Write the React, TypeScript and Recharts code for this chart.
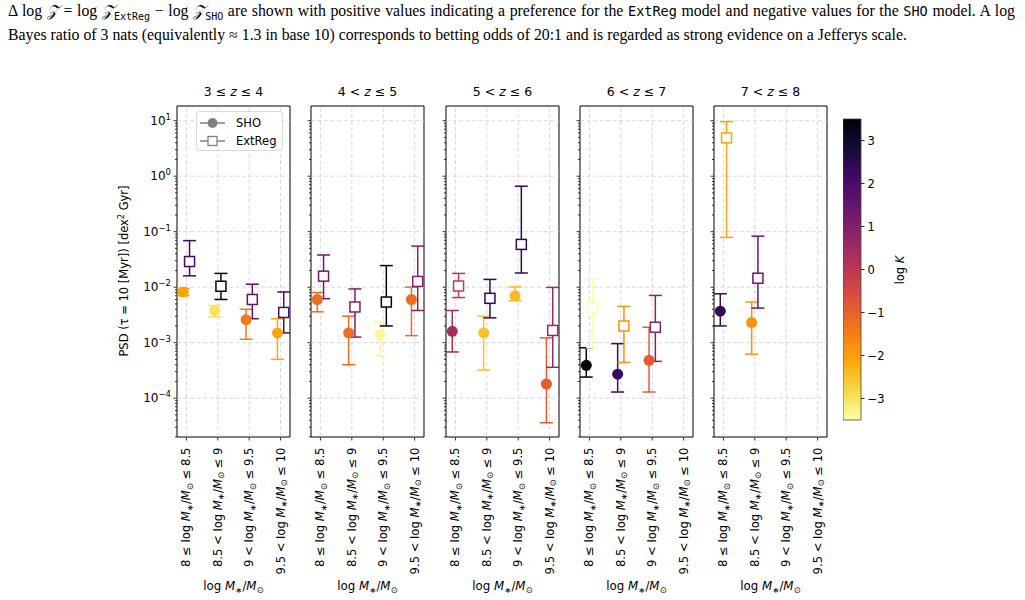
import React from 'react';
import { ComposedChart, BarChart, Bar, Scatter, ErrorBar, XAxis, YAxis, ReferenceLine, ReferenceArea } from 'recharts';

// redshift bins (one panel each) and stellar-mass bins (x categories)
const zLow = [3, 4, 5, 6, 7];
const zHigh = [4, 5, 6, 7, 8];
const massLow = ['8', '8.5', '9', '9.5'];
const massHigh = ['8.5', '9', '9.5', '10'];

// PSD at tau = 10 Myr, rows = redshift bins, columns = mass bins
const shoPsd = [
  [0.0082, 0.0038, 0.0026, 0.0015],
  [0.006, 0.0015, 0.0014, 0.006],
  [0.0016, 0.0015, 0.007, 0.00018],
  [0.00039, 0.00027, 0.00048, null],
  [0.0037, 0.0023, null, null],
];
const shoLow = [
  [0.007, 0.0029, 0.00115, 0.0005],
  [0.0036, 0.0004, 0.00058, 0.00134],
  [0.00068, 0.00032, 0.0057, 0.000036],
  [0.00024, 0.000129, 0.000129, null],
  [0.002, 0.00062, null, null],
];
const shoHigh = [
  [0.0095, 0.0047, 0.004, 0.0027],
  [0.008, 0.003, 0.0024, 0.01],
  [0.0038, 0.003, 0.0101, 0.00122],
  [0.00081, 0.00096, 0.0019, null],
  [0.0076, 0.0054, null, null],
];
const shoLogK = [
  [-2.1, -3.0, -1.4, -2.1],
  [-1.2, -1.2, -3.4, -1.2],
  [0.4, -2.5, -2.4, -0.9],
  [3.5, 2.2, -0.9, null],
  [2.3, -1.8, null, null],
];

const extPsd = [
  [0.029, 0.0104, 0.006, 0.0035],
  [0.0158, 0.0044, 0.0054, 0.0127],
  [0.0105, 0.0063, 0.059, 0.00166],
  [0.0043, 0.002, 0.0019, null],
  [4.9, 0.0145, null, null],
];
const extLow = [
  [0.016, 0.006, 0.0027, 0.0015],
  [0.0062, 0.00126, 0.002, 0.0038],
  [0.0065, 0.0028, 0.018, 0.00036],
  [0.00081, 0.00044, 0.00046, null],
  [0.079, 0.0042, null, null],
];
const extHigh = [
  [0.069, 0.0177, 0.0113, 0.0082],
  [0.038, 0.0093, 0.0245, 0.055],
  [0.0177, 0.0138, 0.66, 0.0099],
  [0.0139, 0.0045, 0.0071, null],
  [9.6, 0.083, null, null],
];
const extLogK = [
  [2.1, 3.3, 1.6, 2.0],
  [1.3, 1.0, 3.4, 0.9],
  [-0.1, 2.4, 2.4, 0.6],
  [-3.5, -1.8, 0.9, null],
  [-2.1, 1.4, null, null],
];

const kTicks = [-3, -2, -1, 0, 1, 2, 3];

const KMIN = -3.5;
const KMAX = 3.5;
const Y_MIN = Math.pow(10, -4.7);
const Y_MAX = Math.pow(10, 1.265);

const PLOT_TOP = 106;
const PLOT_W = 113;
const PLOT_H = 331;
const plotLeft = (i: number) => Math.round(177 + i * 134.25);

// inferno, sampled every 0.1
const INFERNO = [
  '#000004', '#160b39', '#420a68', '#6a176e', '#932667', '#bc3754',
  '#dd513a', '#f37819', '#fca50a', '#f6d746', '#fcffa4',
];

function hexRgb(h: string) {
  const n = parseInt(h.slice(1), 16);
  return [(n >> 16) & 255, (n >> 8) & 255, n & 255];
}

// reversed inferno: large log K is dark
function kColor(v: number) {
  const t = 1 - Math.min(1, Math.max(0, (v - KMIN) / (KMAX - KMIN)));
  const p = t * 10;
  const i = Math.min(9, Math.floor(p));
  const f = p - i;
  const a = hexRgb(INFERNO[i]);
  const b = hexRgb(INFERNO[i + 1]);
  const c = a.map((x, k) => Math.round(x + (b[k] - x) * f));
  return `rgb(${c[0]},${c[1]},${c[2]})`;
}

const yTicks: number[] = [];
for (let e = -5; e <= 1; e++) {
  for (let m = 1; m <= 9; m++) {
    const v = m * Math.pow(10, e);
    if (v >= Y_MIN && v <= Y_MAX) yTicks.push(v);
  }
}
const majorY = [-4, -3, -2, -1, 0, 1].map((e) => Math.pow(10, e));

const sup = (e: number) => (e < 0 ? `\u2212${-e}` : `${e}`);

function LogTick(props: any) {
  const { x, y, payload, showLabel } = props;
  const v = payload.value as number;
  const e = Math.round(Math.log10(v));
  const major = Math.abs(v / Math.pow(10, e) - 1) < 1e-6;
  return (
    <g>
      <line x1={x} x2={x - (major ? 3.5 : 2)} y1={y} y2={y} stroke="#000" strokeWidth={0.8} />
      {major && showLabel && (
        <text x={x - 6} y={y + 4} textAnchor="end" fontSize={12} fill="#000">
          10
          <tspan dy={-5} fontSize={8.5}>{sup(e)}</tspan>
        </text>
      )}
    </g>
  );
}

function MassTick(props: any) {
  const { x, y, payload } = props;
  const b = payload.value as number;
  const rel = b === 0 ? '\u2264' : '<';
  return (
    <g>
      <line x1={x} x2={x} y1={y} y2={y + 3.5} stroke="#000" strokeWidth={0.8} />
      <text
        transform={`translate(${x + 4},${y + 10.5}) rotate(-90)`}
        textAnchor="end"
        fontSize={11.6}
        fill="#000"
      >
        <tspan>{`${massLow[b]} ${rel} log `}</tspan>
        <tspan fontStyle="italic">M</tspan>
        <tspan dy={2.5} fontSize={8.5}>{'\u2217'}</tspan>
        <tspan dy={-2.5}>/</tspan>
        <tspan fontStyle="italic">M</tspan>
        <tspan dy={2.5} fontSize={8.5}>{'\u2299'}</tspan>
        <tspan dy={-2.5}>{` \u2264 ${massHigh[b]}`}</tspan>
      </text>
    </g>
  );
}

type Pt = { kind: 'sho' | 'ext'; x: number; y: number; err: number[]; color: string };

function panelPoints(i: number) {
  const pts: Pt[] = [];
  for (let b = 0; b < 4; b++) {
    const s = shoPsd[i][b];
    if (s != null) {
      pts.push({ kind: 'sho', x: b - 0.1, y: s, err: [s - (shoLow[i][b] as number), (shoHigh[i][b] as number) - s], color: kColor(shoLogK[i][b] as number) });
    }
    const r = extPsd[i][b];
    if (r != null) {
      pts.push({ kind: 'ext', x: b + 0.1, y: r, err: [r - (extLow[i][b] as number), (extHigh[i][b] as number) - r], color: kColor(extLogK[i][b] as number) });
    }
  }
  return pts;
}

function Panel({ i }: { i: number }) {
  const left = plotLeft(i);
  const pts = panelPoints(i);
  return (
    <>
      <div style={{ position: 'absolute', left: left - 50, top: PLOT_TOP - 10 }}>
        <ComposedChart width={50 + PLOT_W + 10} height={10 + PLOT_H + 150} margin={{ top: 10, right: 10, bottom: 0, left: 0 }}>
          <XAxis
            type="number"
            dataKey="x"
            domain={[-0.3, 3.3]}
            ticks={[0, 1, 2, 3]}
            allowDataOverflow
            height={150}
            interval={0}
            axisLine={false}
            tickLine={false}
            tickSize={0}
            tickMargin={0}
            tick={(p: any) => <MassTick {...p} />}
          />
          <YAxis
            type="number"
            dataKey="y"
            scale="log"
            domain={[Y_MIN, Y_MAX]}
            allowDataOverflow
            ticks={yTicks}
            width={50}
            interval={0}
            axisLine={false}
            tickLine={false}
            tickSize={0}
            tickMargin={0}
            tick={(p: any) => <LogTick {...p} showLabel={i === 0} />}
          />
          {majorY.map((v) => (
            <ReferenceLine key={`h${v}`} y={v} stroke="#cfcfcf" strokeWidth={0.8} strokeDasharray="4 2.5" />
          ))}
          {[0, 1, 2, 3].map((v) => (
            <ReferenceLine key={`v${v}`} x={v} stroke="#cfcfcf" strokeWidth={0.8} strokeDasharray="4 2.5" />
          ))}
          {pts.map((p, k) => (
            <Scatter
              key={k}
              data={[p]}
              isAnimationActive={false}
              shape={(sp: any) =>
                p.kind === 'sho' ? (
                  <circle cx={sp.cx} cy={sp.cy} r={5.5} fill={p.color} />
                ) : (
                  <rect x={sp.cx - 5} y={sp.cy - 5} width={10} height={10} fill="#fff" stroke={p.color} strokeWidth={1.5} />
                )
              }
            >
              <ErrorBar dataKey="err" direction="y" width={6.5} stroke={p.color} strokeWidth={1.5} isAnimationActive={false} />
            </Scatter>
          ))}
          <ReferenceArea x1={-0.3} x2={3.3} y1={Y_MIN} y2={Y_MAX} fill="none" stroke="#000" strokeWidth={1} />
        </ComposedChart>
      </div>
      <div style={{ position: 'absolute', left: left, width: PLOT_W, top: 84, textAlign: 'center', fontSize: 12.5 }}>
        {zLow[i]} {i === 0 ? '\u2264' : '<'} <i>z</i> {'\u2264'} {zHigh[i]}
      </div>
      <div style={{ position: 'absolute', left: left, width: PLOT_W, top: 579, textAlign: 'center', fontSize: 11.8 }}>
        log <i>M</i>
        <sub style={{ fontSize: 8.5 }}>{'\u2217'}</sub>/<i>M</i>
        <sub style={{ fontSize: 8.5 }}>{'\u2299'}</sub>
      </div>
    </>
  );
}

function LegendBox() {
  return (
    <svg style={{ position: 'absolute', left: 196, top: 111 }} width={90} height={42}>
      <rect x={0.5} y={0.5} width={86} height={39} rx={3} fill="#fff" fillOpacity={0.85} stroke="#d8d8d8" />
      <line x1={4} x2={29} y1={12} y2={12} stroke="#808080" strokeWidth={1.5} />
      <circle cx={16.5} cy={12} r={5} fill="#808080" />
      <text x={40} y={16} fontSize={11.5} fill="#000">SHO</text>
      <line x1={4} x2={29} y1={30} y2={30} stroke="#808080" strokeWidth={1.5} />
      <rect x={12} y={25.5} width={9} height={9} fill="#fff" stroke="#808080" strokeWidth={1.3} />
      <text x={40} y={34} fontSize={11.5} fill="#000">ExtReg</text>
    </svg>
  );
}

// the colour bar is a single range bar spanning the log K limits
const cbarData = [{ name: 'logK', range: [KMIN, KMAX] }];

function ColorBar() {
  return (
    <>
      <div style={{ position: 'absolute', left: 843, top: 109 }}>
        <BarChart
          width={18 + 40}
          height={10 + 301 + 10}
          data={cbarData}
          margin={{ top: 10, right: 0, bottom: 10, left: 0 }}
          barCategoryGap={0}
        >
          <defs>
            <linearGradient id="cbar" x1="0" y1="0" x2="0" y2="1">
              {INFERNO.map((c, k) => (
                <stop key={k} offset={k / 10} stopColor={c} />
              ))}
            </linearGradient>
          </defs>
          <XAxis dataKey="name" hide />
          <YAxis
            type="number"
            orientation="right"
            domain={[KMIN, KMAX]}
            ticks={kTicks}
            width={40}
            interval={0}
            axisLine={false}
            tickSize={3.5}
            tickMargin={3}
            tickLine={{ stroke: '#000', strokeWidth: 0.8 }}
            tick={{ fontSize: 11.5, fill: '#000' }}
            tickFormatter={(v: number) => (v < 0 ? `\u2212${-v}` : `${v}`)}
          />
          <Bar dataKey="range" fill="url(#cbar)" stroke="#444" strokeWidth={0.8} isAnimationActive={false} />
        </BarChart>
      </div>
      <div
        style={{
          position: 'absolute',
          left: 900,
          top: 270,
          transform: 'translate(-50%, -50%) rotate(-90deg)',
          fontSize: 11.5,
          whiteSpace: 'nowrap',
        }}
      >
        log <i>K</i>
      </div>
    </>
  );
}

function Caption() {
  const tt: React.CSSProperties = { fontFamily: '"DejaVu Sans Mono", monospace', fontSize: 13.5 };
  const ttSub: React.CSSProperties = { fontFamily: '"DejaVu Sans Mono", monospace', fontSize: 10 };
  return (
    <div style={{ position: 'absolute', left: 8, top: 2, width: 1007, fontFamily: '"Liberation Serif", serif', fontSize: 15.8, lineHeight: '17.5px', whiteSpace: 'nowrap' }}>
      <div style={{ textAlign: 'justify', textAlignLast: 'justify', whiteSpace: 'normal' }}>
        {'\u0394'} log <i>{'\ud835\udcb5'}</i> = log <i>{'\ud835\udcb5'}</i>
        <sub style={ttSub}>ExtReg</sub> {'\u2212'} log <i>{'\ud835\udcb5'}</i>
        <sub style={ttSub}>SHO</sub> are shown with positive values indicating a preference for the <span style={tt}>ExtReg</span> model and negative values for the <span style={tt}>SHO</span> model. A log
      </div>
      <div>
        Bayes ratio of 3 nats (equivalently {'\u2248'} 1.3 in base 10) corresponds to betting odds of 20:1 and is regarded as strong evidence on a Jefferys scale.
      </div>
    </div>
  );
}

export default function App() {
  return (
    <div style={{ position: 'fixed', left: 0, top: 0, width: 1025, height: 600, background: '#fff', fontFamily: '"DejaVu Sans", sans-serif', overflow: 'hidden' }}>
      <Caption />
      {zLow.map((_, i) => (
        <Panel key={i} i={i} />
      ))}
      <div
        style={{
          position: 'absolute',
          left: 124,
          top: 271,
          transform: 'translate(-50%, -50%) rotate(-90deg)',
          fontSize: 11.5,
          whiteSpace: 'nowrap',
        }}
      >
        PSD ({'\u03c4'} = 10 [Myr]) [dex<sup style={{ fontSize: 8 }}>2</sup> Gyr]
      </div>
      <LegendBox />
      <ColorBar />
    </div>
  );
}
